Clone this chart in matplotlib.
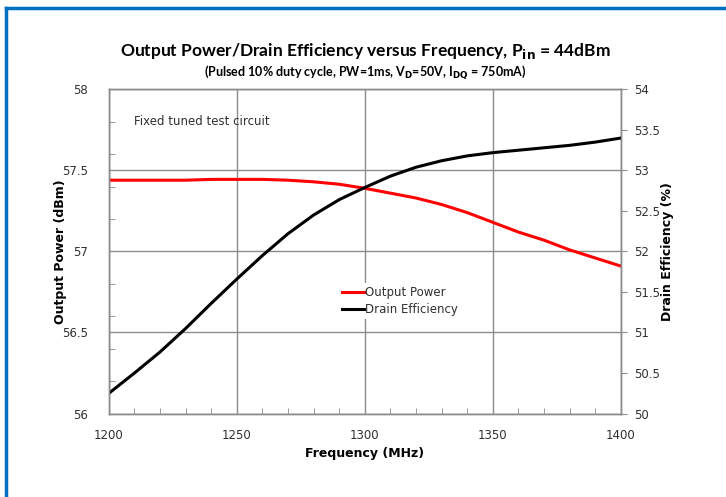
import matplotlib
matplotlib.use("Agg")
import matplotlib.pyplot as plt
from matplotlib.ticker import MultipleLocator
from matplotlib.lines import Line2D

# frequency points (MHz)
freq = [1200, 1210, 1220, 1230, 1240, 1250, 1260, 1270, 1280, 1290, 1300,
        1310, 1320, 1330, 1340, 1350, 1360, 1370, 1380, 1390, 1400]
# output power (dBm), left axis
pout = [57.44, 57.44, 57.44, 57.44, 57.445, 57.445, 57.445, 57.44, 57.43, 57.415, 57.39,
        57.36, 57.33, 57.29, 57.24, 57.18, 57.12, 57.07, 57.01, 56.96, 56.91]
# drain efficiency (%), right axis
eff = [50.25, 50.50, 50.76, 51.05, 51.36, 51.66, 51.95, 52.22, 52.45, 52.64, 52.79,
       52.93, 53.04, 53.12, 53.18, 53.22, 53.25, 53.28, 53.31, 53.35, 53.40]

grid_c = "#8c8c8c"
tick_c = "#303030"

fig = plt.figure(figsize=(7.26, 4.97), dpi=100)
ax1 = fig.add_axes([0.150, 0.168, 0.705, 0.652])
ax2 = ax1.twinx()

(l1,) = ax1.plot(freq, pout, color="#ff0000", linewidth=2.2, label="Output Power",
                 solid_joinstyle="round")
(l2,) = ax2.plot(freq, eff, color="black", linewidth=2.2, label="Drain Efficiency",
                 solid_joinstyle="round")

ax1.set_xlim(1200, 1400)
ax1.set_ylim(56, 58)
ax2.set_ylim(50, 54)

ax1.xaxis.set_major_locator(MultipleLocator(50))
ax1.xaxis.set_minor_locator(MultipleLocator(10))
ax1.yaxis.set_minor_locator(MultipleLocator(0.2))

ax1.set_yticks([56, 56.5, 57, 57.5, 58], ["56", "56.5", "57", "57.5", "58"])
ax2.set_yticks([50, 50.5, 51, 51.5, 52, 52.5, 53, 53.5, 54],
               ["50", "50.5", "51", "51.5", "52", "52.5", "53", "53.5", "54"])

ax1.grid(True, which="major", axis="both", color=grid_c, linewidth=1)
ax1.set_axisbelow(True)

ax1.tick_params(axis="both", which="major", length=0, labelsize=8.5, labelcolor=tick_c, pad=15)
ax1.tick_params(axis="x", which="major", pad=11)
ax1.tick_params(axis="both", which="minor", direction="in", length=4, color=grid_c)
ax2.tick_params(axis="y", which="major", direction="out", length=4, color=grid_c,
                labelsize=8.5, labelcolor=tick_c, pad=6)

for ax in (ax1, ax2):
    for s in ax.spines.values():
        s.set_color(grid_c)
        s.set_linewidth(1)

ax1.set_xlabel("Frequency (MHz)", fontsize=9, fontweight="bold")
ax1.set_ylabel("Output Power (dBm)", fontsize=9, fontweight="bold")
ax2.set_ylabel("Drain Efficiency (%)", fontsize=9, fontweight="bold")
ax1.xaxis.set_label_coords(0.5, -0.103)
ax1.yaxis.set_label_coords(-0.082, 0.5)
ax2.yaxis.set_label_coords(1.078, 0.5)

ax1.text(0.05, 0.90, "Fixed tuned test circuit", transform=ax1.transAxes,
         fontsize=8.5, color=tick_c, va="center", ha="left")

leg = ax2.legend(handles=[l1, l2], loc="upper left", bbox_to_anchor=(0.44, 0.42),
                 frameon=True, fancybox=False, edgecolor="none", facecolor="white",
                 framealpha=1, fontsize=8.5, handlelength=1.8, handletextpad=0.1,
                 labelspacing=0.4, borderpad=0.2)
for t in leg.get_texts():
    t.set_color(tick_c)

fig.text(0.503, 0.898, "Output Power/Drain Efficiency versus Frequency, P$_{\\mathbf{in}}$ = 44dBm",
         ha="center", va="center", fontsize=12.5, fontweight="bold", family="Lato")
fig.text(0.503, 0.855,
         "(Pulsed 10% duty cycle, PW=1ms, V$_{\\mathbf{D}}$=50V, I$_{\\mathbf{DQ}}$ = 750mA)",
         ha="center", va="center", fontsize=9, fontweight="bold", family="Lato")

# blue frame on top and left edge
blue = "#0070c0"
fig.add_artist(Line2D([0.008, 1.0], [0.984, 0.984], transform=fig.transFigure,
                      color=blue, linewidth=2.5))
fig.add_artist(Line2D([0.008, 0.008], [0.0, 0.984], transform=fig.transFigure,
                      color=blue, linewidth=2.5))

fig.savefig("out.png", dpi=100)
